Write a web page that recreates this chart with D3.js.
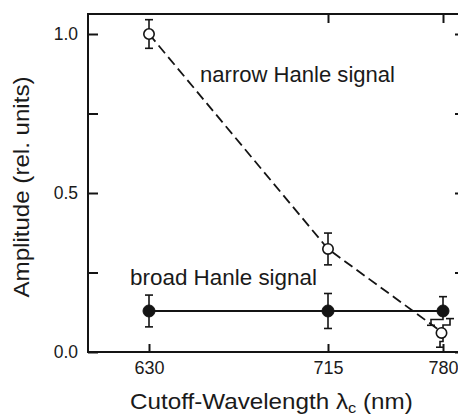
<!DOCTYPE html>
<html><head><meta charset="utf-8">
<script src="https://cdn.jsdelivr.net/npm/d3@7"></script>
<style>
html,body{margin:0;padding:0;background:#fff;overflow:hidden;}
svg{display:block;}
text{font-family:"Liberation Sans",Arial,Helvetica,sans-serif;fill:#1a1a1a;}
</style></head>
<body>
<svg id="chart" width="458" height="417"></svg>
<script>
// ---- data ----
const wavelengths = [630, 715, 780];
const narrowValues = [1.0, 0.324, 0.06];
const narrowErrors = [0.045, 0.05, 0.045];
const broadValues = [0.129, 0.129, 0.129];
const broadErrors = [0.05, 0.055, 0.045];
const yTickValues = [0, 0.25, 0.5, 0.75, 1.0];
const yTickLabels = ["0.0", "", "0.5", "", "1.0"];
const xTickValues = [630, 715, 780];
const xTickLabels = ["630", "715", "780"];

(function () {
const svg = d3.select("#chart");
const pLeft = 88, pRight = 466, pTop = 14, pBottom = 352;
const ink = "#141414";

const x = d3.scaleLinear().domain([630, 715, 780]).range([149, 328, 443]);
const y = d3.scaleLinear().domain([0, 1.0]).range([pBottom, 34]);

// frame
svg.append("rect").attr("x", pLeft).attr("y", pTop)
  .attr("width", pRight - pLeft).attr("height", pBottom - pTop)
  .attr("fill", "none").attr("stroke", ink).attr("stroke-width", 2);

// axes
const yAxis = d3.axisLeft(y).tickValues(yTickValues)
  .tickFormat((d, i) => yTickLabels[i]).tickSize(-10).tickPadding(10);
const gy = svg.append("g").attr("transform", `translate(${pLeft},0)`).call(yAxis);
const yAxisR = d3.axisRight(y).tickValues(yTickValues).tickFormat("").tickSize(-11);
const gyr = svg.append("g").attr("transform", `translate(${pRight},0)`).call(yAxisR);
const xAxis = d3.axisBottom(x).tickValues(xTickValues)
  .tickFormat((d, i) => xTickLabels[i]).tickSize(-8).tickPadding(9);
const gx = svg.append("g").attr("transform", `translate(0,${pBottom})`).call(xAxis);
const xAxisT = d3.axisTop(x).tickValues([715, 780]).tickFormat("").tickSize(-9);
const gxt = svg.append("g").attr("transform", `translate(0,${pTop})`).call(xAxisT);
[gy, gyr, gx, gxt].forEach(g => {
  g.select(".domain").remove();
  g.selectAll(".tick line").attr("stroke", ink).attr("stroke-width", 2);
});
gy.selectAll(".tick text").attr("font-size", "17.5px").attr("fill", "#1a1a1a")
  .attr("font-family", "Liberation Sans, Arial, sans-serif");
gx.selectAll(".tick text").attr("font-size", "18px").attr("fill", "#1a1a1a")
  .attr("font-family", "Liberation Sans, Arial, sans-serif");

const narrow = wavelengths.map((w, i) => ({w, v: narrowValues[i], e: narrowErrors[i]}));
const broad = wavelengths.map((w, i) => ({w, v: broadValues[i], e: broadErrors[i]}));

// lines
svg.append("path").datum(broad)
  .attr("d", d3.line().x(d => x(d.w)).y(d => y(d.v)))
  .attr("fill", "none").attr("stroke", ink).attr("stroke-width", 1.8);
svg.append("path").datum(narrow)
  .attr("d", d3.line().x(d => x(d.w)).y(d => y(d.v)))
  .attr("fill", "none").attr("stroke", ink).attr("stroke-width", 1.8)
  .attr("stroke-dasharray", "10,5");

// error bars
const cap = 4;
function errBar(g, d, lowerStep, upperStep) {
  const cx = x(d.w), cy = y(d.v), yt = y(d.v + d.e), yb = y(d.v - d.e);
  let ux = cx;
  if (upperStep) {
    const ym = cy - (cy - yt) * 0.55;
    ux = cx + upperStep;
    g.append("path").attr("d", `M${cx},${cy}V${ym}H${ux}V${yt}`);
  } else {
    g.append("path").attr("d", `M${cx},${cy}V${yt}`);
  }
  g.append("path").attr("d", `M${ux - cap},${yt}H${ux + cap}`);
  let lx = cx;
  if (lowerStep) {
    const ym = cy + (yb - cy) * 0.6;
    lx = cx + lowerStep;
    g.append("path").attr("d", `M${cx},${cy}V${ym}H${lx}V${yb}`);
  } else {
    g.append("path").attr("d", `M${cx},${cy}V${yb}`);
  }
  g.append("path").attr("d", `M${lx - cap},${yb}H${lx + cap}`);
}
const ge = svg.append("g").attr("fill", "none").attr("stroke", ink).attr("stroke-width", 1.6);
broad.forEach((d, i) => errBar(ge, d, i === 2 ? -12 : 0, 0));
narrow.forEach((d, i) => errBar(ge, d, i === 2 ? -3 : 0, i === 2 ? 7 : 0));

// markers
svg.append("g").selectAll("circle").data(broad).join("circle")
  .attr("cx", d => x(d.w)).attr("cy", d => y(d.v)).attr("r", 6)
  .attr("fill", ink).attr("stroke", ink).attr("stroke-width", 1);
svg.append("g").selectAll("circle").data(narrow).join("circle")
  .attr("cx", d => x(d.w) - (d.w === 780 ? 1.5 : 0)).attr("cy", d => y(d.v)).attr("r", 5.2)
  .attr("fill", "#fff").attr("stroke", ink).attr("stroke-width", 1.6);

// annotations
svg.append("text").attr("x", 200).attr("y", 82).attr("font-size", "21.5px")
  .attr("textLength", 195).attr("lengthAdjust", "spacingAndGlyphs")
  .text("narrow Hanle signal");
svg.append("text").attr("x", 130).attr("y", 285).attr("font-size", "21.5px")
  .attr("textLength", 187).attr("lengthAdjust", "spacingAndGlyphs")
  .text("broad Hanle signal");

// y title
svg.append("text").attr("transform", "translate(29,187) rotate(-90)")
  .attr("text-anchor", "middle").attr("font-size", "22px")
  .attr("textLength", 221).attr("lengthAdjust", "spacingAndGlyphs")
  .text("Amplitude (rel. units)");

// x title
const xt = svg.append("text").attr("font-size", "22px");
xt.append("tspan").text("Cutoff-Wavelength ");
xt.append("tspan").text("λ");
xt.append("tspan").attr("font-size", "15px").attr("dy", 4).text("c");
xt.append("tspan").attr("dy", -4).text(" (nm)");
const bw = xt.node().getBBox().width;
xt.attr("transform", `translate(130,409) scale(${283 / bw},1)`);
})();
</script>
</body></html>
